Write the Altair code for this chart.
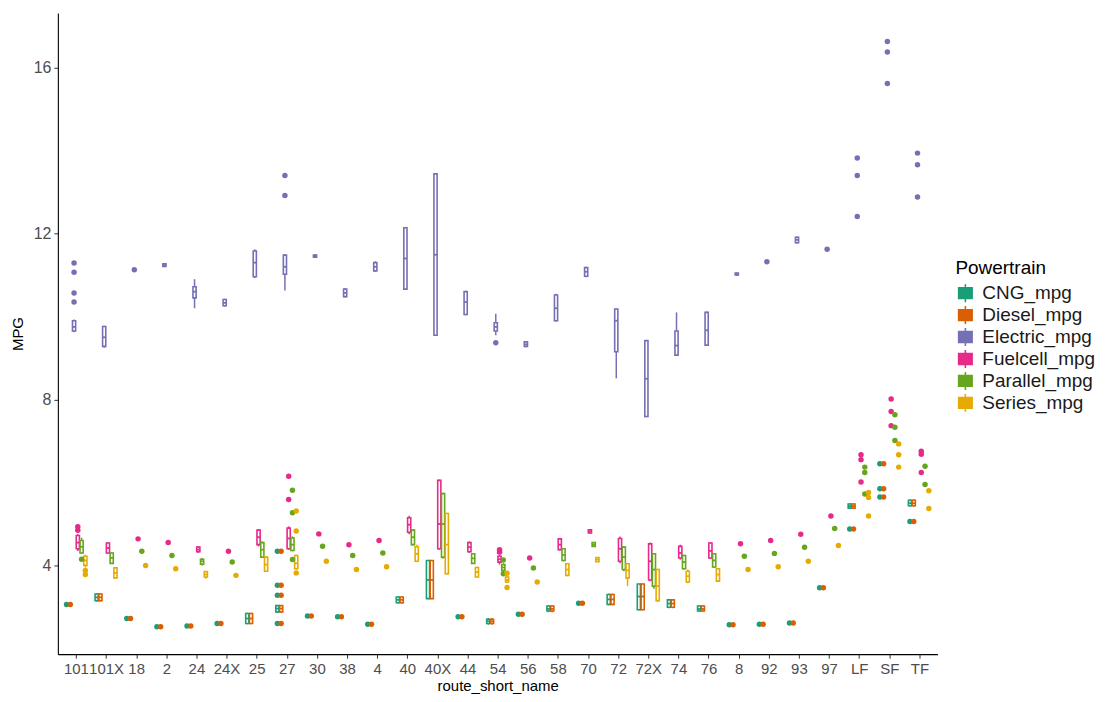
import altair as alt
import pandas as pd

routes = ["101", "101X", "18", "2", "24", "24X", "25", "27", "30", "38", "4", "40", "40X",
          "44", "54", "56", "58", "70", "72", "72X", "74", "76", "8", "92", "93", "97",
          "LF", "SF", "TF"]
powertrains = ["CNG_mpg", "Diesel_mpg", "Electric_mpg", "Fuelcell_mpg", "Parallel_mpg", "Series_mpg"]
colors = ["#1b9e77", "#d95f02", "#7570b3", "#e7298a", "#66a61e", "#e6ab02"]

# box statistics: (route, lower whisker, q1, median, q3, upper whisker)
cng_boxes = [("101X", 3.13, 3.15, 3.23, 3.31, 3.33), ("25", 2.58, 2.6, 2.72, 2.84, 2.86),
             ("27", 2.86, 2.88, 2.96, 3.03, 3.04), ("40", 3.08, 3.1, 3.17, 3.24, 3.25),
             ("40X", 3.2, 3.2, 3.65, 4.12, 4.12), ("54", 2.57, 2.6, 2.65, 2.7, 2.73),
             ("58", 2.87, 2.9, 2.95, 3.02, 3.04), ("72", 3.04, 3.06, 3.18, 3.3, 3.32),
             ("72X", 2.92, 2.93, 3.25, 3.55, 3.56), ("74", 2.97, 2.99, 3.08, 3.17, 3.19),
             ("76", 2.88, 2.9, 2.95, 3.02, 3.04), ("LF", 5.36, 5.38, 5.43, 5.48, 5.5),
             ("TF", 5.42, 5.44, 5.5, 5.57, 5.59)]
cng_points = [("101", 3.06), ("18", 2.72), ("2", 2.52), ("24", 2.54), ("24X", 2.6),
              ("27", 2.6), ("27", 3.28), ("27", 3.52), ("27", 4.34), ("30", 2.78),
              ("38", 2.76), ("4", 2.58), ("44", 2.76), ("56", 2.82), ("70", 3.09),
              ("8", 2.57), ("92", 2.58), ("93", 2.61), ("97", 3.46), ("LF", 4.88),
              ("SF", 5.65), ("SF", 5.85), ("SF", 6.45), ("TF", 5.06)]

diesel_boxes = [("101X", 3.13, 3.15, 3.23, 3.31, 3.33), ("25", 2.58, 2.6, 2.72, 2.84, 2.86),
                ("27", 2.86, 2.88, 2.96, 3.03, 3.04), ("40", 3.08, 3.1, 3.17, 3.24, 3.25),
                ("40X", 3.2, 3.2, 3.65, 4.12, 4.12), ("54", 2.57, 2.6, 2.65, 2.7, 2.73),
                ("58", 2.87, 2.9, 2.95, 3.02, 3.04), ("72", 3.04, 3.06, 3.18, 3.3, 3.32),
                ("72X", 2.92, 2.93, 3.25, 3.55, 3.56), ("74", 2.97, 2.99, 3.08, 3.17, 3.19),
                ("76", 2.88, 2.9, 2.95, 3.02, 3.04), ("LF", 5.36, 5.38, 5.43, 5.48, 5.5),
                ("TF", 5.42, 5.44, 5.5, 5.57, 5.59)]
diesel_points = [("101", 3.06), ("18", 2.72), ("2", 2.52), ("24", 2.54), ("24X", 2.6),
                 ("27", 2.6), ("27", 3.28), ("27", 3.52), ("27", 4.34), ("30", 2.78),
                 ("38", 2.76), ("4", 2.58), ("44", 2.76), ("56", 2.82), ("70", 3.09),
                 ("8", 2.57), ("92", 2.58), ("93", 2.61), ("97", 3.46), ("LF", 4.88),
                 ("SF", 5.65), ("SF", 5.85), ("SF", 6.45), ("TF", 5.06)]

electric_boxes = [("101", 9.62, 9.65, 9.75, 9.9, 9.93), ("101X", 9.25, 9.28, 9.5, 9.76, 9.78),
                  ("2", 11.2, 11.21, 11.24, 11.27, 11.28), ("24", 10.2, 10.45, 10.6, 10.72, 10.9),
                  ("24X", 10.24, 10.26, 10.33, 10.41, 10.43), ("25", 10.93, 10.96, 11.3, 11.58, 11.62),
                  ("27", 10.63, 11.02, 11.2, 11.48, 11.5), ("30", 11.42, 11.43, 11.45, 11.48, 11.5),
                  ("38", 10.46, 10.48, 10.57, 10.66, 10.68), ("4", 11.08, 11.1, 11.2, 11.3, 11.33),
                  ("40", 10.64, 10.66, 11.4, 12.14, 12.16), ("40X", 9.55, 9.55, 11.49, 13.44, 13.44),
                  ("44", 10.03, 10.05, 10.35, 10.6, 10.62), ("54", 9.55, 9.65, 9.75, 9.85, 10.07),
                  ("56", 9.26, 9.28, 9.33, 9.39, 9.41), ("58", 9.88, 9.9, 10.2, 10.52, 10.55),
                  ("70", 10.95, 10.97, 11.08, 11.18, 11.2), ("72", 8.51, 9.15, 9.9, 10.18, 10.19),
                  ("72X", 7.57, 7.59, 8.5, 9.42, 9.43), ("74", 9.05, 9.07, 9.3, 9.65, 10.1),
                  ("76", 9.29, 9.31, 9.67, 10.1, 10.12), ("8", 10.98, 11.0, 11.02, 11.05, 11.06),
                  ("93", 11.76, 11.78, 11.85, 11.91, 11.93)]
electric_points = [("101", 10.35), ("101", 10.57), ("101", 11.07), ("101", 11.29), ("18", 11.13),
                   ("27", 12.92), ("27", 13.4), ("54", 9.37), ("92", 11.32), ("97", 11.62),
                   ("LF", 12.41), ("LF", 13.4), ("LF", 13.82), ("SF", 15.62), ("SF", 16.38),
                   ("SF", 16.63), ("TF", 12.88), ("TF", 13.66), ("TF", 13.94)]

fuelcell_boxes = [("101", 4.35, 4.4, 4.55, 4.72, 4.75), ("101X", 4.28, 4.3, 4.42, 4.54, 4.56),
                  ("24", 4.3, 4.33, 4.38, 4.44, 4.46), ("25", 4.46, 4.5, 4.68, 4.85, 4.87),
                  ("27", 4.38, 4.4, 4.65, 4.9, 4.94), ("40", 4.75, 4.8, 4.98, 5.15, 5.2),
                  ("40X", 4.38, 4.4, 5.0, 6.05, 6.07), ("44", 4.3, 4.33, 4.44, 4.55, 4.58),
                  ("54", 4.02, 4.08, 4.15, 4.22, 4.25), ("58", 4.36, 4.38, 4.5, 4.64, 4.66),
                  ("70", 4.77, 4.78, 4.82, 4.86, 4.88), ("72", 4.05, 4.1, 4.4, 4.65, 4.7),
                  ("72X", 3.62, 3.65, 4.1, 4.52, 4.55), ("74", 4.14, 4.18, 4.3, 4.46, 4.5),
                  ("76", 4.16, 4.18, 4.35, 4.54, 4.56)]
fuelcell_points = [("101", 4.85), ("101", 4.93), ("18", 4.64), ("2", 4.55), ("24X", 4.34),
                   ("27", 5.59), ("27", 6.15), ("30", 4.76), ("38", 4.5), ("4", 4.6),
                   ("54", 4.32), ("54", 4.38), ("56", 4.18), ("8", 4.52), ("92", 4.6),
                   ("93", 4.75), ("97", 5.19), ("LF", 6.01), ("LF", 6.55), ("LF", 6.67),
                   ("SF", 7.37), ("SF", 7.71), ("SF", 8.01), ("TF", 6.24), ("TF", 6.68),
                   ("TF", 6.75)]

parallel_boxes = [("101", 4.28, 4.3, 4.45, 4.6, 4.67), ("101X", 4.04, 4.05, 4.18, 4.3, 4.32),
                  ("24", 4.0, 4.03, 4.1, 4.15, 4.18), ("25", 4.18, 4.2, 4.38, 4.55, 4.58),
                  ("27", 4.34, 4.36, 4.5, 4.66, 4.7), ("40", 4.48, 4.5, 4.68, 4.85, 4.88),
                  ("40X", 4.16, 4.2, 5.0, 5.73, 5.75), ("44", 4.04, 4.05, 4.17, 4.28, 4.3),
                  ("54", 3.85, 3.88, 3.95, 4.02, 4.05), ("58", 4.1, 4.12, 4.25, 4.4, 4.42),
                  ("70", 4.45, 4.46, 4.5, 4.55, 4.56), ("72", 3.86, 3.9, 4.2, 4.44, 4.46),
                  ("72X", 3.44, 3.5, 3.9, 4.28, 4.3), ("74", 3.9, 3.92, 4.08, 4.24, 4.26),
                  ("76", 3.94, 3.96, 4.12, 4.28, 4.3)]
parallel_points = [("101", 4.15), ("18", 4.34), ("2", 4.24), ("24X", 4.08), ("27", 4.14),
                   ("27", 5.27), ("27", 5.81), ("30", 4.46), ("38", 4.24), ("4", 4.3),
                   ("54", 3.8), ("54", 4.13), ("56", 3.94), ("8", 4.22), ("92", 4.29),
                   ("93", 4.44), ("97", 4.89), ("LF", 5.72), ("LF", 6.24), ("LF", 6.37),
                   ("SF", 7.01), ("SF", 7.33), ("SF", 7.63), ("TF", 5.95), ("TF", 6.39)]

series_boxes = [("101", 3.95, 4.0, 4.12, 4.22, 4.26), ("101X", 3.68, 3.7, 3.82, 3.94, 3.95),
                ("24", 3.68, 3.72, 3.78, 3.85, 3.86), ("25", 3.84, 3.86, 4.02, 4.2, 4.22),
                ("27", 3.9, 3.92, 4.05, 4.24, 4.26), ("40", 4.08, 4.1, 4.28, 4.45, 4.5),
                ("40X", 3.78, 3.8, 4.5, 5.25, 5.27), ("44", 3.7, 3.72, 3.84, 3.95, 3.97),
                ("54", 3.58, 3.6, 3.65, 3.72, 3.75), ("58", 3.74, 3.76, 3.9, 4.04, 4.06),
                ("70", 4.08, 4.09, 4.14, 4.19, 4.2), ("72", 3.5, 3.7, 3.88, 4.04, 4.06),
                ("72X", 3.12, 3.15, 3.5, 3.9, 3.92), ("74", 3.57, 3.6, 3.74, 3.86, 3.9),
                ("76", 3.6, 3.62, 3.78, 3.92, 3.94)]
series_points = [("101", 3.78), ("101", 3.88), ("18", 4.0), ("2", 3.92), ("24X", 3.76),
                 ("27", 3.82), ("27", 4.83), ("27", 5.31), ("30", 4.1), ("38", 3.9),
                 ("4", 3.97), ("54", 3.47), ("54", 3.81), ("56", 3.6), ("8", 3.9),
                 ("92", 3.97), ("93", 4.1), ("97", 4.48), ("LF", 5.19), ("LF", 5.64),
                 ("LF", 5.76), ("SF", 6.37), ("SF", 6.67), ("SF", 6.93), ("TF", 5.37),
                 ("TF", 5.8)]

groups = {
    "CNG_mpg": (cng_boxes, cng_points),
    "Diesel_mpg": (diesel_boxes, diesel_points),
    "Electric_mpg": (electric_boxes, electric_points),
    "Fuelcell_mpg": (fuelcell_boxes, fuelcell_points),
    "Parallel_mpg": (parallel_boxes, parallel_points),
    "Series_mpg": (series_boxes, series_points),
}

slot = 0.75 / len(powertrains)  # dodge width per powertrain
box_rows, whisk_rows, pt_rows = [], [], []
for k, p in enumerate(powertrains):
    bxs, pts = groups[p]
    off = (k - (len(powertrains) - 1) / 2) * slot
    for r, lo, q1, med, q3, hi in bxs:
        xp = routes.index(r) + off
        box_rows.append(dict(route=r, powertrain=p, q1=q1, med=med, q3=q3,
                             xpos=xp, xl=xp - slot * 0.42, xr=xp + slot * 0.42))
        whisk_rows.append(dict(route=r, powertrain=p, a=lo, b=q1, xpos=xp))
        whisk_rows.append(dict(route=r, powertrain=p, a=q3, b=hi, xpos=xp))
    for r, v in pts:
        pt_rows.append(dict(route=r, outlier_group=p, value=v, xpos=routes.index(r) + off))

box_df = pd.DataFrame(box_rows)
whisk_df = pd.DataFrame(whisk_rows)
pt_df = pd.DataFrame(pt_rows)

label_arr = "[" + ",".join("'%s'" % r for r in routes) + "]"
xscale = alt.Scale(domain=[-0.6, len(routes) - 0.4], nice=False, zero=False)
yscale = alt.Scale(domain=[1.86, 17.32], nice=False, zero=False)
xaxis = alt.Axis(values=list(range(len(routes))), labelExpr=label_arr + "[datum.value]",
                 labelOverlap=False, labelFlush=False, grid=False)
yaxis = alt.Axis(values=[4, 8, 12, 16], grid=False)
cscale = alt.Scale(domain=powertrains, range=colors)

legend_symbol = "M-0.75,-0.6H0.75V0.6H-0.75Z M-0.75,0H0.75 M0,-1V-0.6 M0,0.6V1"
legend = alt.Legend(symbolType=legend_symbol, symbolSize=324, symbolFillColor="white",
                    symbolStrokeWidth=1.6, orient="none", legendX=900, legendY=247)


def X(field):
    return alt.X(field, type="quantitative", scale=xscale, axis=xaxis, title="route_short_name")


def Y(field):
    return alt.Y(field, type="quantitative", scale=yscale, axis=yaxis, title="MPG")


def C():
    return alt.Color("powertrain:N", scale=cscale, title="Powertrain", legend=legend)


boxes = alt.Chart(box_df).mark_rect(filled=False, strokeWidth=1.6).encode(
    x=X("xl"), x2="xr", y=Y("q1"), y2="q3", color=C())

whiskers = alt.Chart(whisk_df).mark_rule(strokeWidth=1.5).encode(
    x=X("xpos"), y=Y("a"), y2="b", color=C())

medians = alt.Chart(box_df).mark_rule(strokeWidth=1.8).encode(
    x=X("xl"), x2="xr", y=Y("med"), color=C())

points = alt.Chart(pt_df).mark_circle(size=30, opacity=1).encode(
    x=X("xpos"), y=Y("value"),
    fill=alt.Fill("outlier_group:N", scale=cscale, legend=None))

chart = alt.layer(boxes, whiskers, medians, points).properties(
    width=882, height=643,
    autosize=alt.AutoSizeParams(type="none"),
    padding={"left": 50, "top": 4, "right": 170, "bottom": 40},
).configure_view(stroke=None).configure_axis(
    domainColor="#000000", domainWidth=1.1, tickColor="#333333", tickSize=4,
    labelColor="#4d4d4d", labelFontSize=15, labelFont="Liberation Sans",
    titleFont="Liberation Sans", titleFontSize=15, titleFontWeight="normal",
    titleColor="#000000",
).configure_axisX(labelPadding=3, titlePadding=2).configure_axisY(
    labelPadding=3, titlePadding=8, labelFontSize=16
).configure_legend(
    titleFontSize=19, labelFontSize=19, titleFontWeight="normal", titleColor="#000000",
    labelColor="#1a1a1a", rowPadding=0, clipHeight=22, labelOffset=7, titlePadding=4,
    titleFont="Liberation Sans", labelFont="Liberation Sans",
)

chart.save("out.html", embed_options={"renderer": "svg", "actions": False})
